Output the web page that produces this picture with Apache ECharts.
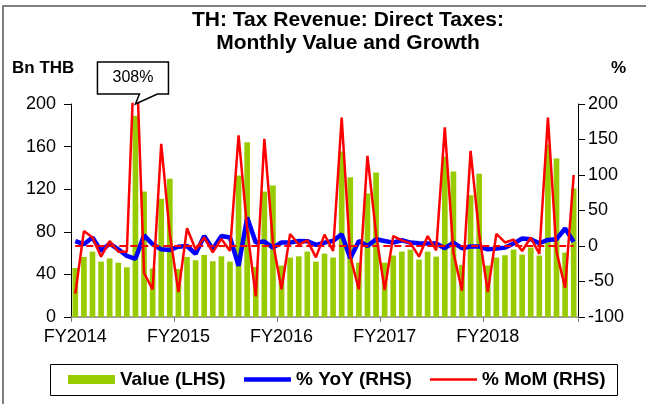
<!DOCTYPE html>
<html>
<head>
<meta charset="utf-8">
<script src="https://cdn.jsdelivr.net/npm/echarts@6/dist/echarts.min.js"></script>
<style>
html,body{margin:0;padding:0;background:#fff;}
#c{width:646px;height:404px;}
</style>
</head>
<body>
<div id="c"></div>
<script>
// Months Oct-2013 .. Aug-2018 (Thai fiscal years FY2014..FY2018)
var months = [
 'Oct-13','Nov-13','Dec-13','Jan-14','Feb-14','Mar-14','Apr-14','May-14','Jun-14','Jul-14','Aug-14','Sep-14',
 'Oct-14','Nov-14','Dec-14','Jan-15','Feb-15','Mar-15','Apr-15','May-15','Jun-15','Jul-15','Aug-15','Sep-15',
 'Oct-15','Nov-15','Dec-15','Jan-16','Feb-16','Mar-16','Apr-16','May-16','Jun-16','Jul-16','Aug-16','Sep-16',
 'Oct-16','Nov-16','Dec-16','Jan-17','Feb-17','Mar-17','Apr-17','May-17','Jun-17','Jul-17','Aug-17','Sep-17',
 'Oct-17','Nov-17','Dec-17','Jan-18','Feb-18','Mar-18','Apr-18','May-18','Jun-18','Jul-18','Aug-18'
];
var fyLabels = ['FY2014','FY2015','FY2016','FY2017','FY2018'];
var leftTicks = [0,40,80,120,160,200];
var rightTicks = [-100,-50,0,50,100,150,200];

// Value (Bn THB)
var valueLHS = [
 46,56.4,61.4,52,55,51,46.7,189,117.8,45.5,111,129.8,
 45,56.4,53.3,58.3,52.3,57,52,132.9,164.2,47,117.8,123.5,
 48.3,55.8,57,61.4,52,59.5,55.8,155.4,131.3,51,116,135.7,
 51,57.7,61.4,63.3,53.9,61.4,56.7,150.4,136.6,48.9,114.4,134.5,
 48.3,55.8,58,63.3,58.6,65.2,57.7,161.7,148.9,60.5,120.6
];
// % YoY
var yoyRHS = [
 7,2.5,12,-7,3.4,-4.6,-14,-18,15,2.5,-4.6,-5.5,
 -1,0,-11,14,-4.6,14,12,-28,40,4.8,6.2,-2.3,
 5,4.8,7.2,6.8,1.5,4.8,7.2,16.6,-17.2,7.2,0,9.6,
 7,4.8,8.1,4.8,3.9,3.4,3.4,-3.1,4.8,-3.1,-0.8,-0.8,
 -4.6,-3.7,-2.3,3.4,10.5,9.6,3.9,8.6,9.6,24.6,5.8
];
// % MoM
var momRHS = [
 -67,21,12,-15,7,-8,-8,308,-38,-61,144,17,
 -65,25,-5,12,-9,10,-7,156,24,-71,151,5,
 -61,17,2,8,-16,16,-7,181,-15,-61,127,17,
 -62,14,8,4,-15,14,-6,167,-9,-63,134,17,
 -65,17,5,9,-7,12,-11,181,-8,-59,100
];
var calloutIndex = 7;

var FONT = '"Liberation Sans", Arial, sans-serif';
var chart = echarts.init(document.getElementById('c'), null, {renderer:'canvas'});

function legendCfg(name, left, h){
  return {
    left:left, top:370, padding:0, itemGap:0, itemWidth:47, itemHeight:h,
    icon:'rect', selectedMode:false,
    textStyle:{fontSize:19,fontWeight:'bold',color:'#000',fontFamily:FONT},
    data:[name]
  };
}

var option = {
  animation:false,
  backgroundColor:'#fff',
  textStyle:{fontFamily:FONT},
  grid:{left:71,right:68,top:104,bottom:87,containLabel:false},
  legend:[
    legendCfg('Value (LHS)',68,9),
    legendCfg('% YoY (RHS)',244,4.5),
    legendCfg('% MoM (RHS)',430,2.5)
  ],
  xAxis:{
    type:'category', data:months, boundaryGap:true,
    axisLine:{lineStyle:{color:'#7f7f7f',width:1.5}},
    axisTick:{show:true,interval:11,length:5,lineStyle:{color:'#7f7f7f'}},
    axisLabel:{interval:11,margin:11,fontSize:18,color:'#000',fontFamily:FONT,
      formatter:function(v,i){return fyLabels[Math.round(i/12)]||'';}},
    splitLine:{show:false}
  },
  yAxis:[
    {type:'value',min:leftTicks[0],max:leftTicks[leftTicks.length-1],interval:40,position:'left',
     axisLine:{show:true,lineStyle:{color:'#000',width:1}},
     axisTick:{show:true,length:7,lineStyle:{color:'#000'}},
     axisLabel:{margin:15,fontSize:18,color:'#000',fontFamily:FONT},
     splitLine:{show:false}},
    {type:'value',min:rightTicks[0],max:rightTicks[rightTicks.length-1],interval:50,position:'right',
     axisLine:{show:true,lineStyle:{color:'#000',width:1}},
     axisTick:{show:true,length:7,lineStyle:{color:'#000'}},
     axisLabel:{margin:10,fontSize:18,color:'#000',fontFamily:FONT},
     splitLine:{show:false}}
  ],
  series:[
    {name:'Value (LHS)',type:'bar',data:valueLHS,yAxisIndex:0,
     barCategoryGap:'34%',itemStyle:{color:'#99cc00'},z:1},
    {name:'% YoY (RHS)',type:'line',data:yoyRHS,yAxisIndex:1,symbol:'none',
     lineStyle:{color:'#0000ff',width:4.5},itemStyle:{color:'#0000ff'},z:3,
     markLine:{silent:true,symbol:'none',label:{show:false},
       lineStyle:{color:'#ff0000',type:[7,4],width:2},
       data:[[{coord:[months[0],0]},{coord:[months[months.length-1],0]}]]}},
    {name:'% MoM (RHS)',type:'line',data:momRHS,yAxisIndex:1,symbol:'none',
     lineStyle:{color:'#ff0000',width:2.5},itemStyle:{color:'#ff0000'},z:4}
  ]
};
chart.setOption(option);

var tipX = chart.convertToPixel({xAxisIndex:0}, months[calloutIndex]);
var tipY = chart.convertToPixel({yAxisIndex:0}, leftTicks[leftTicks.length-1]);
var bTop = 62, bBot = 94, bL = tipX-38, bR = tipX+33;
chart.setOption({
  graphic:[
    {type:'rect',shape:{x:3,y:6,width:700,height:500},style:{fill:'none',stroke:'#7f7f7f',lineWidth:2},z:0,silent:true},
    {type:'rect',shape:{x:50.5,y:364.5,width:567,height:31},style:{fill:'none',stroke:'#000',lineWidth:1},z:0,silent:true},
    {type:'text',x:348,y:9,style:{text:'TH: Tax Revenue: Direct Taxes:\nMonthly Value and Growth',
      font:'bold 21px '+FONT,fill:'#000',textAlign:'center',textVerticalAlign:'top',lineHeight:23}},
    {type:'text',x:12,y:68,style:{text:'Bn THB',font:'bold 17px '+FONT,fill:'#000',textVerticalAlign:'middle'}},
    {type:'text',x:611,y:68,style:{text:'%',font:'bold 17px '+FONT,fill:'#000',textVerticalAlign:'middle'}},
    {type:'polygon',shape:{points:[[bL,bTop],[bR,bTop],[bR,bBot],[tipX+22,bBot],[tipX,tipY],[tipX+4,bBot],[bL,bBot]]},
      style:{fill:'#fff',stroke:'#000',lineWidth:1.5},z:10},
    {type:'text',x:(bL+bR)/2,y:(bTop+bBot)/2,z:11,style:{text:momRHS[calloutIndex]+'%',font:'16px '+FONT,fill:'#000',
      textAlign:'center',textVerticalAlign:'middle'}}
  ]
});
</script>
</body>
</html>
